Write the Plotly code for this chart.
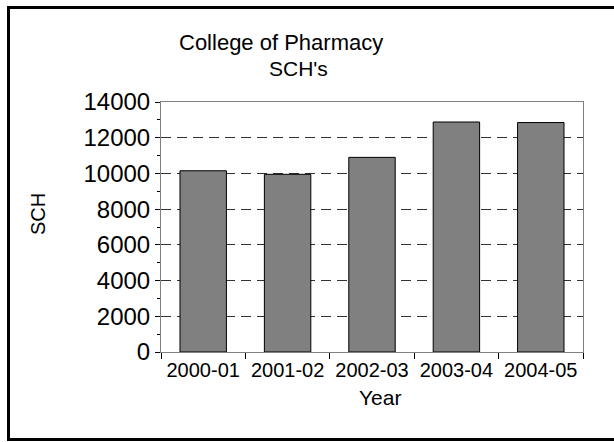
import plotly.graph_objects as go

categories = ["2000-01", "2001-02", "2002-03", "2003-04", "2004-05"]
sch_values = [10150, 9950, 10900, 12880, 12850]
y_tick_values = [0, 2000, 4000, 6000, 8000, 10000, 12000, 14000]
y_tick_labels = ["0", "2000", "4000", "6000", "8000", "10000", "12000", "14000"]

W, H = 614, 442
L, R, T, B = 161, 31, 102, 90
pw, ph = W - L - R, H - T - B

def px(x):
    return (x - L) / pw

def py(y):
    return (H - B - y) / ph

font = "Arial, Liberation Sans, sans-serif"

fig = go.Figure(
    go.Bar(
        x=categories,
        y=sch_values,
        marker=dict(color="#808080", line=dict(color="#000000", width=1)),
    )
)

border = dict(color="black", width=3)

fig.update_layout(
    width=W,
    height=H,
    margin=dict(l=L, r=R, t=T, b=B, autoexpand=False),
    paper_bgcolor="white",
    plot_bgcolor="white",
    bargap=0.45,
    showlegend=False,
    font=dict(family=font, color="black", size=20),
    annotations=[
        dict(text="College of Pharmacy", x=px(281), y=py(42), xref="paper", yref="paper",
             showarrow=False, font=dict(size=22), xanchor="center", yanchor="middle"),
        dict(text="SCH's", x=px(298), y=py(68), xref="paper", yref="paper",
             showarrow=False, font=dict(size=21), xanchor="center", yanchor="middle"),
        dict(text="Year", x=px(380), y=py(397), xref="paper", yref="paper",
             showarrow=False, font=dict(size=21), xanchor="center", yanchor="middle"),
        dict(text="SCH", x=px(38), y=py(214), xref="paper", yref="paper", textangle=-90,
             showarrow=False, font=dict(size=20), xanchor="center", yanchor="middle"),
    ],
    shapes=[
        dict(type="rect", xref="paper", yref="paper",
             x0=px(598), x1=px(616), y0=py(10), y1=py(437),
             line=dict(width=0), fillcolor="white", layer="above"),
        dict(type="line", xref="paper", yref="paper",
             x0=px(8.5), x1=px(8.5), y0=py(6), y1=py(441), line=border),
        dict(type="line", xref="paper", yref="paper",
             x0=px(7), x1=px(614), y0=py(7.5), y1=py(7.5), line=border),
        dict(type="line", xref="paper", yref="paper",
             x0=px(7), x1=px(614), y0=py(439.5), y1=py(439.5), line=border),
    ],
    yaxis2=dict(
        overlaying="y", side="left", range=[0, 14000],
        tickmode="array", tickvals=y_tick_values, showticklabels=False,
        ticks="inside", ticklen=5, tickcolor="#000000",
        minor=dict(dtick=1000, ticks="inside", ticklen=3, tickcolor="#000000", showgrid=False),
        showgrid=False, showline=False, zeroline=False,
    ),
)

fig.update_xaxes(
    type="category",
    showline=True, linecolor="#808080", linewidth=1, mirror=True,
    ticks="outside", tickson="boundaries", ticklen=6, tickcolor="#000000",
    tickfont=dict(size=20),
    showgrid=False,
)

fig.update_yaxes(
    range=[0, 14000],
    tickmode="array", tickvals=y_tick_values, ticktext=y_tick_labels,
    showline=True, linecolor="#808080", linewidth=1, mirror=True,
    ticks="outside", ticklen=5, tickcolor="#000000",
    tickfont=dict(size=24),
    minor=dict(dtick=1000, ticks="outside", ticklen=3, tickcolor="#000000", showgrid=False),
    showgrid=True, gridcolor="#333333", gridwidth=1, griddash="10px,6px",
    zeroline=False,
)
fig.layout.yaxis2.showgrid = False

fig.write_html(
    "out.html",
    config={"displayModeBar": False},
    post_script="document.body.style.margin='0';document.body.style.overflow='hidden';",
)
